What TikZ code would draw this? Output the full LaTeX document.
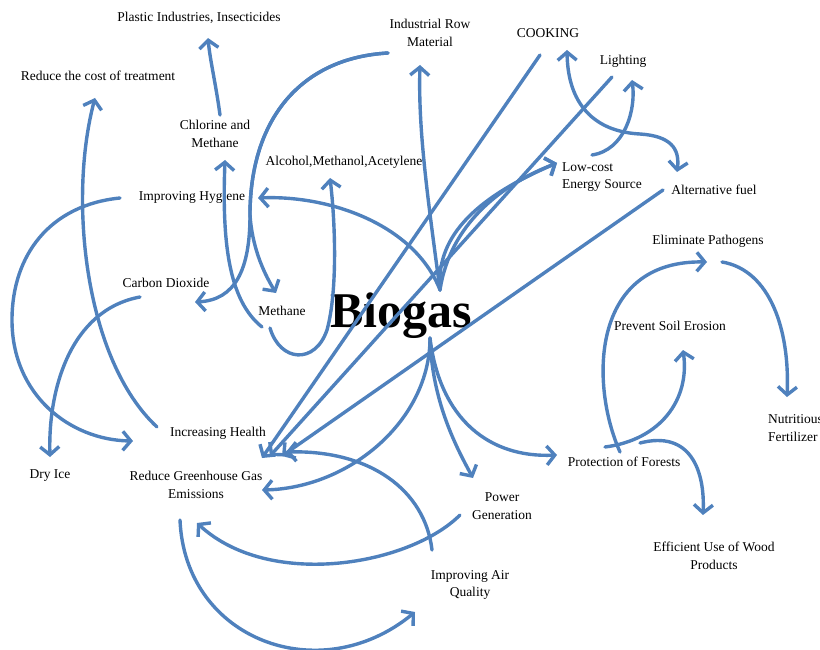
\documentclass[tikz,border=0pt]{standalone}
\usepackage{fontspec}
\setmainfont{Liberation Serif}
\usetikzlibrary{arrows.meta}
\definecolor{arrowblue}{HTML}{4F81BD}
\begin{document}
\begin{tikzpicture}[x=1pt,y=-1pt,
  lbl/.style={font=\fontsize{13.5}{17.5}\selectfont, align=center, inner sep=1pt},
  conn/.style={draw=arrowblue, line width=3.4pt, line cap=round, -{Straight Barb[length=8pt,width=19pt]}},
  twoway/.style={draw=arrowblue, line width=3.4pt, line cap=round, {Straight Barb[length=8pt,width=19pt]}-{Straight Barb[length=8pt,width=19pt]}}]
\useasboundingbox (0,0) rectangle (820,650);

% partly visible title letter
\node[font=\fontsize{40}{40}\selectfont\bfseries, anchor=base] (titleg) at (216,-9) {g};

% labels
\node[lbl] (plastic) at (199,18) {Plastic Industries, Insecticides};
\node[lbl] (reduce) at (98,76) {Reduce the cost of treatment};
\node[lbl] (chlor) at (215,134) {Chlorine and\\Methane};
\node[lbl] (indus) at (430,33) {Industrial Row\\Material};
\node[lbl] (cook) at (548,33) {COOKING};
\node[lbl] (light) at (623,61) {Lighting};
\node[lbl] (alcohol) at (344,162) {Alcohol,Methanol,Acetylene};
\node[lbl] (hyg) at (192,197) {Improving Hyg\phantom{i}ene};
\node[lbl, align=left] (lowcost) at (602,177) {Low-cost\\Energy Source};
\node[lbl] (alt) at (714,190) {Alternative fuel};
\node[lbl] (elim) at (708,241) {Eliminate Pathogens};
\node[lbl] (co2) at (166,283) {Carbon Dioxide};
\node[lbl] (meth) at (282,311) {Methane};
\node[font=\fontsize{50}{50}\selectfont\bfseries, anchor=base] (biogas) at (401,327) {Biogas};
\node[lbl] (soil) at (670,326) {Prevent Soil Erosion};
\node[lbl, align=left, anchor=west] (nutri) at (767,428) {Nutritious\\Fertilizer};
\node[lbl] (health) at (218,433) {Increasing Health};
\node[lbl] (dry) at (50,476) {Dry Ice};
\node[lbl] (ghg) at (196,485) {Reduce Greenhouse Gas\\Emissions};
\node[lbl] (forest) at (624,462) {Protection of Forests};
\node[lbl] (power) at (502,506) {Power\\Generation};
\node[lbl] (wood) at (714,556) {Efficient Use of Wood\\Products};
\node[lbl] (air) at (470,585) {Improving Air\\Quality};

% connector end points
\coordinate (chlorOut) at (220,115);   \coordinate (plasticIn) at (208,38);
\coordinate (healthOut) at (157,427);  \coordinate (reduceIn) at (95,98);
\coordinate (hygOut) at (120,198);     \coordinate (healthIn) at (133,441);
\coordinate (co2Out) at (140,297);     \coordinate (dryIn) at (50,457);
\coordinate (methOut) at (262,327);    \coordinate (chlorIn) at (225,160);
\coordinate (indusOut) at (388,53);    \coordinate (methIn) at (276,293);
\coordinate (co2In) at (195,302);      \coordinate (methOutB) at (270,328);
\coordinate (alcoholIn) at (330,178);
\coordinate (bioN) at (440,290);       \coordinate (bioS) at (430,338);
\coordinate (hygIn) at (258,198);      \coordinate (indusIn) at (420,65);
\coordinate (lowIn) at (557,163);      \coordinate (lowOut) at (592,155);
\coordinate (lightIn) at (632,80);     \coordinate (cookEnd) at (567,50);
\coordinate (altIn) at (677,172);
\coordinate (cookOut) at (540,55);     \coordinate (lightOut) at (612,77);
\coordinate (altOut) at (663,190);
\coordinate (ghgInA) at (262,458);     \coordinate (ghgInB) at (270,456);
\coordinate (ghgInC) at (282,456);     \coordinate (healthInB) at (286,452);
\coordinate (airOut) at (432,550);     \coordinate (powerOut) at (460,515);
\coordinate (ghgInD) at (197,523);     \coordinate (ghgOut) at (180,520);
\coordinate (airIn) at (415,612);      \coordinate (powerIn) at (473,478);
\coordinate (forestIn) at (557,455);   \coordinate (ghgInE) at (262,490);
\coordinate (forestOutA) at (620,452); \coordinate (elimIn) at (707,262);
\coordinate (forestOutB) at (605,447); \coordinate (soilIn) at (683,350);
\coordinate (forestOutC) at (640,443); \coordinate (woodIn) at (703,515);
\coordinate (elimOut) at (722,262);    \coordinate (nutriIn) at (787,397);

% connectors
\draw[conn] (chlorOut) .. controls (216,85) and (210,60) .. (plasticIn);
\draw[conn] (healthOut) .. controls (85,360) and (68,200) .. (reduceIn);
\draw[conn] (hygOut) .. controls (50,205) and (12,255) .. (12,320)
                     .. controls (12,395) and (70,440) .. (healthIn);
\draw[conn] (co2Out) .. controls (70,310) and (48,390) .. (dryIn);
\draw[conn] (methOut) .. controls (228,300) and (222,240) .. (chlorIn);
\draw[conn] (indusOut) .. controls (300,58) and (250,120) .. (250,215)
                       .. controls (252,245) and (262,270) .. (methIn);
\draw[conn] (indusOut) .. controls (300,58) and (250,120) .. (250,215)
                       .. controls (250,270) and (235,300) .. (co2In);
\draw[conn] (methOutB) .. controls (280,362) and (315,365) .. (327,330)
                       .. controls (338,290) and (335,220) .. (alcoholIn);
\draw[conn] (bioN) .. controls (415,225) and (330,195) .. (hygIn);
\draw[conn] (bioN) .. controls (428,200) and (418,130) .. (indusIn);
\draw[conn] (bioN) .. controls (450,225) and (500,185) .. (lowIn);
\draw[conn] (bioN) .. controls (436,240) and (470,200) .. (lowIn);
\draw[conn] (lowOut) .. controls (625,150) and (636,110) .. (lightIn);
\draw[twoway] (cookEnd) .. controls (568,110) and (600,132) .. (640,134)
                        .. controls (670,136) and (680,148) .. (altIn);
\draw[conn] (cookOut) -- (ghgInA);
\draw[conn] (lightOut) -- (ghgInB);
\draw[conn] (altOut) -- (ghgInC);
\draw[conn] (airOut) .. controls (425,490) and (370,450) .. (healthInB);
\draw[conn] (powerOut) .. controls (410,565) and (270,590) .. (ghgInD);
\draw[conn] (ghgOut) .. controls (185,640) and (320,690) .. (airIn);
\draw[conn] (bioS) .. controls (432,400) and (455,445) .. (powerIn);
\draw[conn] (bioS) .. controls (440,420) and (490,458) .. (forestIn);
\draw[conn] (bioS) .. controls (430,420) and (350,488) .. (ghgInE);
\draw[conn] (forestOutA) .. controls (590,385) and (590,260) .. (elimIn);
\draw[conn] (forestOutB) .. controls (660,440) and (690,400) .. (soilIn);
\draw[conn] (forestOutC) .. controls (690,430) and (705,470) .. (woodIn);
\draw[conn] (elimOut) .. controls (770,270) and (790,330) .. (nutriIn);
\end{tikzpicture}
\end{document}
